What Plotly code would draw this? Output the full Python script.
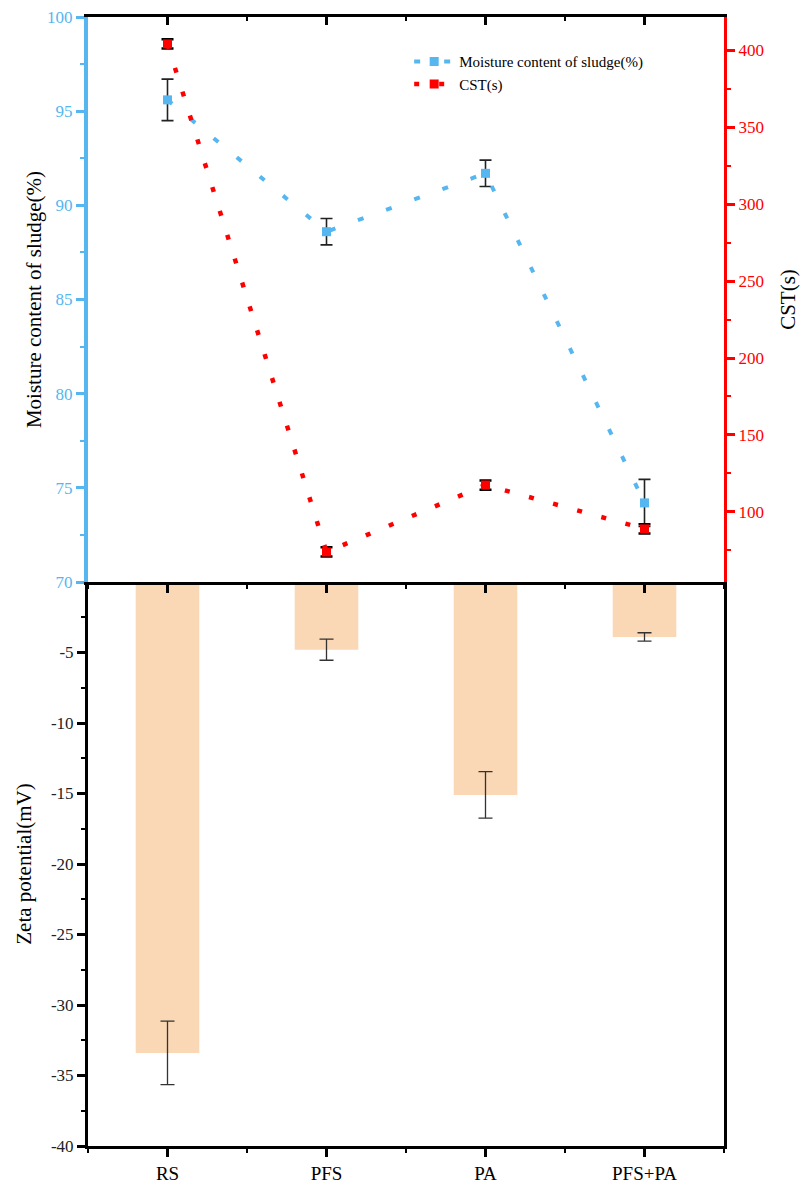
import plotly.graph_objects as go

categories = ["RS", "PFS", "PA", "PFS+PA"]
moisture = [95.6, 88.6, 91.7, 74.2]
moisture_err = [1.1, 0.7, 0.7, 1.25]
cst = [404, 74, 117.5, 89]
cst_err = [3, 3, 3, 3]
zeta = [-33.4, -4.8, -15.1, -3.9]
zeta_err = [2.25, 0.75, 1.65, 0.3]
zeta_ticks = [-40, -35, -30, -25, -20, -15, -10, -5]
moist_ticks = [70, 75, 80, 85, 90, 95, 100]
cst_ticks = [100, 150, 200, 250, 300, 350, 400]

xpos = list(range(len(categories)))
FONT = "Liberation Serif"
BLUE = "#55B6F0"
RED = "#FF0000"

fig = go.Figure()

fig.add_trace(go.Bar(
    x=xpos, y=zeta, width=0.4, marker=dict(color="#FAD7B5", line=dict(width=0)),
    error_y=dict(type="data", array=zeta_err, color="#333333", thickness=1.3, width=7),
    xaxis="x", yaxis="y", showlegend=False))

fig.add_trace(go.Scatter(
    x=xpos, y=moisture, mode="lines+markers", name="Moisture content of sludge(%)",
    line=dict(color=BLUE, width=4, dash="6px,24px"),
    marker=dict(symbol="square", size=9, color=BLUE),
    error_y=dict(type="data", array=moisture_err, color="#222222", thickness=1.6, width=6),
    xaxis="x2", yaxis="y2"))

fig.add_trace(go.Scatter(
    x=xpos, y=cst, mode="lines+markers", name="CST(s)",
    line=dict(color=RED, width=4.5, dash="5px,20px"),
    marker=dict(symbol="square", size=9, color=RED),
    error_y=dict(type="data", array=cst_err, color="#000000", thickness=2.5, width=6),
    xaxis="x3", yaxis="y3"))

split = 564 / 1129

fig.update_layout(
    width=801, height=1177,
    margin=dict(l=80, r=85, t=9, b=39, autoexpand=False),
    plot_bgcolor="white", paper_bgcolor="white",
    font=dict(family=FONT, color="black"),
    showlegend=True,
    legend=dict(x=0.505, y=0.975, xanchor="left", yanchor="top",
                font=dict(family=FONT, size=15, color="black"),
                bgcolor="rgba(0,0,0,0)", tracegroupgap=0, itemwidth=40),
    xaxis=dict(domain=[0, 1], anchor="y", range=[-0.5, 3.5], automargin=False,
               tickvals=xpos, ticktext=categories, ticklabeloverflow="allow",
               tickfont=dict(family=FONT, size=19, color="black"),
               showline=True, linecolor="black", linewidth=3,
               ticks="outside", ticklen=8, tickwidth=3, tickcolor="black",
               minor=dict(tick0=0.5, dtick=1, ticks="outside", ticklen=4, tickwidth=2, tickcolor="black"),
               showgrid=False, zeroline=False),
    xaxis2=dict(domain=[0, 1], anchor="y2", matches="x", range=[-0.5, 3.5], automargin=False,
                tickvals=xpos, showticklabels=False,
                showline=True, linecolor="black", linewidth=3,
                ticks="outside", ticklen=8, tickwidth=3, tickcolor="black",
                minor=dict(tick0=0.5, dtick=1, ticks="outside", ticklen=4, tickwidth=2, tickcolor="black"),
                showgrid=False, zeroline=False),
    xaxis3=dict(overlaying="x2", anchor="y2", side="top", range=[-0.5, 3.5], automargin=False,
                tickvals=xpos, showticklabels=False,
                showline=True, linecolor="black", linewidth=3,
                ticks="inside", ticklen=8, tickwidth=3, tickcolor="black",
                minor=dict(tick0=0.5, dtick=1, ticks="inside", ticklen=4, tickwidth=2, tickcolor="black"),
                showgrid=False, zeroline=False),
    yaxis=dict(domain=[0, split], anchor="x", range=[-40, 0], automargin=False,
               tickvals=zeta_ticks, ticktext=[str(v) for v in zeta_ticks], ticklabeloverflow="allow",
               tickfont=dict(family=FONT, size=17, color="#222222"),
               title=dict(text="Zeta potential(mV)", font=dict(family=FONT, size=21, color="black"), standoff=14),
               showline=True, linecolor="black", linewidth=3, mirror=True,
               ticks="outside", ticklen=8, tickwidth=3, tickcolor="black",
               minor=dict(tick0=-37.5, dtick=5, ticks="outside", ticklen=4, tickwidth=2, tickcolor="black"),
               showgrid=False, zeroline=False),
    yaxis2=dict(domain=[split, 1], anchor="x2", range=[70, 100], automargin=False,
                tickvals=moist_ticks, ticklabeloverflow="allow",
                tickfont=dict(family=FONT, size=17, color=BLUE),
                title=dict(text="Moisture content of sludge(%)", font=dict(family=FONT, size=21, color="black"), standoff=1),
                showline=True, linecolor=BLUE, linewidth=4,
                ticks="outside", ticklen=8, tickwidth=3, tickcolor=BLUE,
                minor=dict(tick0=72.5, dtick=5, ticks="outside", ticklen=4, tickwidth=2, tickcolor=BLUE),
                showgrid=False, zeroline=False),
    yaxis3=dict(overlaying="y2", anchor="x2", side="right", range=[54.5, 421.5], automargin=False,
                tickvals=cst_ticks, ticklabeloverflow="allow",
                tickfont=dict(family=FONT, size=17, color=RED),
                title=dict(text="CST(s)", font=dict(family=FONT, size=21, color="black"), standoff=18),
                showline=True, linecolor=RED, linewidth=3,
                ticks="outside", ticklen=8, tickwidth=3, tickcolor=RED,
                minor=dict(tick0=75, dtick=50, ticks="outside", ticklen=4, tickwidth=2, tickcolor=RED),
                showgrid=False, zeroline=False),
)

fig.write_html("out.html")
